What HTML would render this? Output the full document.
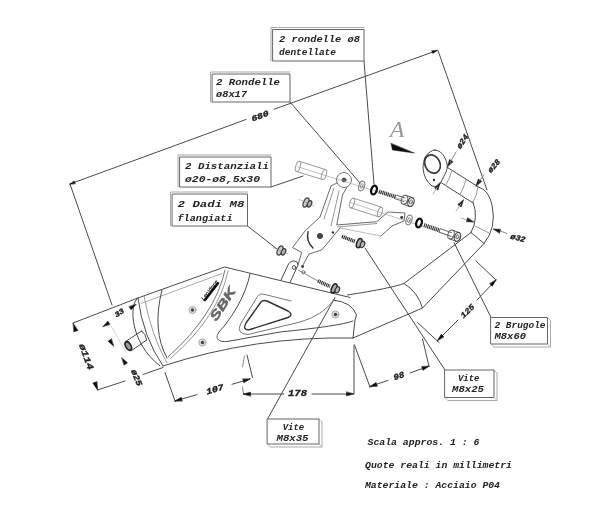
<!DOCTYPE html>
<html><head><meta charset="utf-8"><title>Schema</title>
<style>
html,body{margin:0;padding:0;background:#fff}
svg{display:block}
text{font-family:"Liberation Mono",monospace;font-style:italic}
</style></head><body>
<svg width="600" height="513" viewBox="0 0 600 513">
<defs>
<filter id="b" x="0" y="0" width="600" height="513" filterUnits="userSpaceOnUse"><feGaussianBlur stdDeviation="0.65"/></filter>
<filter id="t" x="0" y="0" width="600" height="513" filterUnits="userSpaceOnUse"><feGaussianBlur stdDeviation="0.6"/></filter>
</defs>
<rect width="600" height="513" fill="#fff"/>
<g id="lines" filter="url(#b)" fill="none" stroke="#4a4a4a" stroke-width="1" stroke-linecap="round" stroke-linejoin="round">
<line x1="70" y1="184" x2="246" y2="119.5"/>
<line x1="274" y1="109.3" x2="437" y2="50.5"/>
<line x1="70" y1="184" x2="112" y2="305"/>
<line x1="438" y1="50.5" x2="487" y2="190"/>
<polygon points="70.0,184.0 74.2,181.1 75.1,183.5" fill="#111" stroke="#111" stroke-width="0.6"/>
<polygon points="437.0,50.5 432.8,53.4 431.9,51.0" fill="#111" stroke="#111" stroke-width="0.6"/>
<line x1="290" y1="102" x2="360" y2="183"/>
<line x1="364" y1="61" x2="374" y2="184"/>
<line x1="271" y1="187" x2="303" y2="176"/>
<line x1="247.5" y1="226" x2="277" y2="249"/>
<line x1="267.5" y1="419" x2="335" y2="297.5"/>
<line x1="445" y1="370" x2="365" y2="248"/>
<line x1="491" y1="317.5" x2="454" y2="242.5"/>
<path d="M138,298 L224.5,267 L350,297.5"/>
<path d="M141,303.5 L222,273.5" stroke="#aaa"/>
<path d="M138,298 Q143,337 163,366"/>
<path d="M138,298 C129,303 129,342 160,366"/>
<path d="M144,296 Q151,335 167,363" stroke="#999"/>
<path d="M163,366 Q255,336 353,338"/>
<path d="M162,290 Q151.7,330 167,358"/>
<path d="M225,270 Q215.5,314.5 168,357" stroke="#777"/>
<path d="M228,271 Q219,316 171,358" stroke="#999"/>
<path d="M250,274 C246,295 232,318 219,332 C214,339 219,343 230,341 L280,332 Q340,326 353,321"/>
<path d="M333,300 Q352,302 356.5,315 L355,320 L353,338"/>
<path d="M291,301 L265,294.5 Q260,293 257.5,296.5 L240.5,324 Q236,334 248,334.5 L300,322 Q322,316 334,300" stroke="#777"/>
<path d="M246,323 L261,302 Q263,299.5 267,301 L288,311 Q294,314.5 288,317.5 L250,329.5 Q242,331 246,323 Z" stroke="#333" stroke-width="1.4"/>
<circle cx="192.5" cy="310" r="3.6" stroke="#aaa" fill="#ddd"/>
<circle cx="192.5" cy="310" r="1.7" stroke="none" fill="#444"/>
<circle cx="202.5" cy="342.5" r="3.6" stroke="#aaa" fill="#ddd"/>
<circle cx="202.5" cy="342.5" r="1.7" stroke="none" fill="#444"/>
<circle cx="335.5" cy="314.5" r="3.6" stroke="#aaa" fill="#ddd"/>
<circle cx="335.5" cy="314.5" r="1.7" stroke="none" fill="#444"/>
<path d="M125.5,341.5 L141.7,331 M131,351 L146.7,340 M141.7,331 Q146,334 146.7,340"/>
<ellipse cx="128.3" cy="346" rx="2.6" ry="4.6" transform="rotate(-30 128.3 346)" stroke="#222" stroke-width="1.6" fill="#999"/>
<path d="M281,280 L288.5,264 Q292,259 297,262 L298,265 L290,282.5"/>
<circle cx="294" cy="267.5" r="1.8" stroke="#444"/>
<circle cx="302.6" cy="266.5" r="1.4" fill="#333" stroke="none"/>
<circle cx="303.4" cy="272.3" r="1.6" stroke="#666"/>
<path d="M435,150 Q441,150 445,158 Q449,166 446,172 L440,184 Q437,188 432,186 Q424,180 423,168 Q423,156 430,152 Q432,150 435,150 Z"/>
<ellipse cx="432.5" cy="164" rx="7.5" ry="9.5" transform="rotate(-25 432.5 164)" stroke-width="1.7" stroke="#3a3a3a"/>
<circle cx="434" cy="180" r="1.2" fill="#333" stroke="none"/>
<path d="M447.5,167.5 L478,186.7 M441.7,183 L473,203"/>
<path d="M466,180 Q464,187 460,194.5" stroke="#999"/>
<path d="M478,186.7 Q477,196 473,202" stroke="#999"/>
<path d="M452,170.5 Q450,178 445.5,185.5" stroke="#999"/>
<path d="M478,186.7 Q489,190 492,205 Q497,228 484,243.5"/>
<path d="M473,202 Q479,218 471,232.5"/>
<path d="M471,232.5 L484,243.5"/>
<path d="M475,226 L489,233" stroke="#999"/>
<path d="M471,232.5 L404,283.5 Q392,288 347.5,295"/>
<path d="M484,243.5 L422.5,308 L353,338"/>
<path d="M404,283.5 Q418,292 422.5,308"/>
<circle cx="344" cy="180" r="7.5" stroke="#777"/>
<circle cx="344" cy="180" r="2" fill="#555"/>
<path d="M337,183 L331,186 L320,217 L305,231 L292.5,247.5 L301.7,252.5 L298,265" stroke="#6a6a6a"/>
<path d="M347,187 L342.5,195 L336.7,225 L376.7,221.7 L388,212 L405,213 L404,221 L392,226 L381,236" stroke="#6a6a6a"/>
<path d="M381,236 L340,228" stroke="#bbb"/>
<path d="M340,228 L321.7,250 L309,254 L303,265" stroke="#6a6a6a"/>
<path d="M337.5,227 L377,223.5" stroke="#999"/>
<path d="M334,188 L324,219 M339,191 L331,226" stroke="#999"/>
<path d="M308,231.7 Q306,242 313,248" stroke="#333" stroke-width="1.4"/>
<circle cx="320" cy="236" r="2.6" fill="#444" stroke="#444"/>
<circle cx="333" cy="232.5" r="1.2" fill="#333" stroke="none"/>
<circle cx="401.7" cy="217.5" r="1.4" fill="#333" stroke="none"/>
<path d="M296.5,171.5 L322.5,179.5 M299.5,161.5 L325.5,169.5" stroke="#9a9a9a"/>
<ellipse cx="298" cy="166.5" rx="2.3" ry="5.2" transform="rotate(17.1 298 166.5)" stroke="#9a9a9a"/>
<ellipse cx="324" cy="174.5" rx="2.3" ry="5.2" transform="rotate(17.1 324 174.5)" stroke="#9a9a9a"/>
<path d="M350.5,207.8 L378.5,216.8 M353.5,198.2 L381.5,207.2" stroke="#9a9a9a"/>
<ellipse cx="352" cy="203" rx="2.2" ry="5" transform="rotate(17.8 352 203)" stroke="#9a9a9a"/>
<ellipse cx="380" cy="212" rx="2.2" ry="5" transform="rotate(17.8 380 212)" stroke="#9a9a9a"/>
<line x1="297.5" y1="166.7" x2="413" y2="203" stroke="#999" stroke-width="0.6"/>
<line x1="350" y1="202.3" x2="457" y2="238" stroke="#999" stroke-width="0.6"/>
<ellipse cx="361.7" cy="186" rx="2.8" ry="5" transform="rotate(18 361.7 186)" stroke="#777" stroke-width="1"/>
<ellipse cx="361.7" cy="186" rx="1.2" ry="2.4" transform="rotate(18 361.7 186)" stroke="#777" stroke-width="0.8"/>
<ellipse cx="374" cy="190" rx="2.7" ry="4.4" transform="rotate(18 374 190)" stroke="#111" stroke-width="2.3"/>
<ellipse cx="409" cy="220" rx="2.8" ry="5" transform="rotate(18 409 220)" stroke="#777" stroke-width="1"/>
<ellipse cx="409" cy="220" rx="1.2" ry="2.4" transform="rotate(18 409 220)" stroke="#777" stroke-width="0.8"/>
<ellipse cx="419" cy="223" rx="2.7" ry="4.4" transform="rotate(18 419 223)" stroke="#111" stroke-width="2.3"/>
<line x1="379" y1="191.5" x2="396" y2="197" stroke="#333" stroke-width="4" stroke-dasharray="1.1 0.7" stroke-linecap="butt"/>
<path d="M395.4,198.8 L403.9,201.6 M396.6,195.2 L405.1,198.0" stroke="#666"/>
<path d="M403.1,204.2 L409.6,206.4 M405.9,195.4 L412.4,197.6" stroke="#555"/>
<ellipse cx="404.5" cy="199.8" rx="3" ry="4.6" transform="rotate(18.2 404.5 199.8)" stroke="#666" stroke-width="1"/>
<ellipse cx="411" cy="202" rx="3" ry="4.6" transform="rotate(18.2 411 202)" stroke="#444" stroke-width="1.2"/>
<ellipse cx="411" cy="202" rx="1.4" ry="2.2" transform="rotate(18.2 411 202)" stroke="#666" stroke-width="0.9"/>
<line x1="424" y1="225" x2="440" y2="230.5" stroke="#333" stroke-width="4" stroke-dasharray="1.1 0.7" stroke-linecap="butt"/>
<path d="M439.4,232.3 L450.4,236.3 M440.6,228.7 L451.6,232.7" stroke="#666"/>
<path d="M449.4,238.8 L455.9,241.2 M452.6,230.2 L459.1,232.6" stroke="#555"/>
<ellipse cx="451" cy="234.5" rx="3" ry="4.6" transform="rotate(20.0 451 234.5)" stroke="#666" stroke-width="1"/>
<ellipse cx="457.5" cy="236.9" rx="3" ry="4.6" transform="rotate(20.0 457.5 236.9)" stroke="#444" stroke-width="1.2"/>
<ellipse cx="457.5" cy="236.9" rx="1.4" ry="2.2" transform="rotate(20.0 457.5 236.9)" stroke="#666" stroke-width="0.9"/>
<line x1="342" y1="236.5" x2="355" y2="241.5" stroke="#222" stroke-width="3.6" stroke-dasharray="1.1 0.7" stroke-linecap="butt"/>
<ellipse cx="359.2" cy="243.1" rx="2.4" ry="4.8" transform="rotate(21.0 359.2 243.1)" stroke="#222" stroke-width="1.5" fill="#aaa"/>
<ellipse cx="362.5" cy="244.4" rx="2" ry="3.3" transform="rotate(21.0 362.5 244.4)" stroke="#333" stroke-width="1.2" fill="#bbb"/>
<line x1="318" y1="281" x2="330" y2="286.5" stroke="#222" stroke-width="3.6" stroke-dasharray="1.1 0.7" stroke-linecap="butt"/>
<ellipse cx="334.1" cy="288.4" rx="2.4" ry="4.8" transform="rotate(24.6 334.1 288.4)" stroke="#222" stroke-width="1.5" fill="#aaa"/>
<ellipse cx="337.3" cy="289.8" rx="2" ry="3.3" transform="rotate(24.6 337.3 289.8)" stroke="#333" stroke-width="1.2" fill="#bbb"/>
<line x1="298" y1="270" x2="318" y2="281" stroke="#888"/>
<ellipse cx="306" cy="202.5" rx="2.4" ry="4.8" transform="rotate(25 306 202.5)" stroke="#444" stroke-width="1.3" fill="#ccc"/>
<ellipse cx="309.5" cy="203.9" rx="2" ry="3.3" transform="rotate(25 309.5 203.9)" stroke="#333" stroke-width="1.2" fill="#bbb"/>
<path d="M299,199.5 L314,205.9" stroke="#888" stroke-width="0.6"/>
<ellipse cx="280" cy="250.5" rx="2.4" ry="4.8" transform="rotate(25 280 250.5)" stroke="#444" stroke-width="1.3" fill="#ccc"/>
<ellipse cx="283.5" cy="251.9" rx="2" ry="3.3" transform="rotate(25 283.5 251.9)" stroke="#333" stroke-width="1.2" fill="#bbb"/>
<path d="M273,247.5 L288,253.9" stroke="#888" stroke-width="0.6"/>
<line x1="138" y1="298" x2="73" y2="323"/>
<polygon points="73.3,323.5 77.9,330.4 74.1,331.7" fill="#111" stroke="#111" stroke-width="0.6"/>
<polygon points="97.5,390.0 92.9,383.1 96.7,381.8" fill="#111" stroke="#111" stroke-width="0.6"/>
<line x1="97.5" y1="390" x2="125" y2="381"/>
<line x1="143" y1="374.5" x2="163" y2="367.5"/>
<polygon points="103.0,326.5 107.9,321.2 109.8,324.2" fill="#111" stroke="#111" stroke-width="0.6"/>
<polygon points="136.0,304.5 131.1,309.8 129.2,306.8" fill="#111" stroke="#111" stroke-width="0.6"/>
<line x1="110" y1="324" x2="126" y2="352" stroke="#bbb" stroke-width="0.6"/>
<polygon points="113.5,346.0 108.1,341.2 111.3,339.1" fill="#111" stroke="#111" stroke-width="0.6"/>
<polygon points="122.0,358.0 127.4,362.8 124.2,364.9" fill="#111" stroke="#111" stroke-width="0.6"/>
<line x1="165" y1="372.5" x2="175" y2="401"/>
<line x1="175" y1="401" x2="197" y2="394.6"/>
<line x1="232" y1="384.3" x2="250" y2="379"/>
<polygon points="175.0,401.0 181.2,397.3 182.2,400.8" fill="#111" stroke="#111" stroke-width="0.6"/>
<polygon points="250.0,379.0 243.8,382.7 242.8,379.2" fill="#111" stroke="#111" stroke-width="0.6"/>
<line x1="247" y1="355" x2="252.5" y2="377.5"/>
<path d="M244.5,356 L242.5,367 M242.5,387 L243.5,394" stroke="#888"/>
<line x1="243.5" y1="394" x2="284" y2="394"/>
<line x1="312" y1="394" x2="353" y2="394"/>
<polygon points="243.5,394.0 250.5,392.2 250.5,395.8" fill="#111" stroke="#111" stroke-width="0.6"/>
<polygon points="353.5,394.0 346.5,395.8 346.5,392.2" fill="#111" stroke="#111" stroke-width="0.6"/>
<line x1="354" y1="345" x2="354" y2="394"/>
<line x1="354.5" y1="345" x2="370" y2="387"/>
<line x1="370" y1="386.5" x2="388" y2="380.4"/>
<line x1="410" y1="372.9" x2="429" y2="366.3"/>
<polygon points="370.0,386.5 376.1,382.5 377.2,386.0" fill="#111" stroke="#111" stroke-width="0.6"/>
<polygon points="429.0,366.3 422.9,370.3 421.8,366.8" fill="#111" stroke="#111" stroke-width="0.6"/>
<line x1="422.5" y1="339" x2="429" y2="366.3"/>
<line x1="417.5" y1="322.5" x2="439" y2="342.5"/>
<line x1="437.5" y1="340.5" x2="458" y2="320"/>
<line x1="477" y1="300" x2="496" y2="280"/>
<polygon points="437.5,340.5 441.2,334.3 443.7,336.8" fill="#111" stroke="#111" stroke-width="0.6"/>
<polygon points="496.0,280.0 492.3,286.2 489.8,283.7" fill="#111" stroke="#111" stroke-width="0.6"/>
<line x1="476" y1="261" x2="496" y2="280"/>
<polygon points="447.5,166.5 449.6,159.6 452.8,161.6" fill="#111" stroke="#111" stroke-width="0.6"/>
<line x1="450" y1="162.5" x2="456" y2="152" stroke="#888"/>
<polygon points="440.0,183.0 437.9,189.9 434.7,187.9" fill="#111" stroke="#111" stroke-width="0.6"/>
<line x1="437.5" y1="187" x2="433" y2="194" stroke="#aaa"/>
<polygon points="476.0,186.0 478.3,179.1 481.5,181.2" fill="#111" stroke="#111" stroke-width="0.6"/>
<line x1="479" y1="181.5" x2="484" y2="175" stroke="#888"/>
<polygon points="463.5,200.0 461.2,206.9 458.0,204.8" fill="#111" stroke="#111" stroke-width="0.6"/>
<line x1="461" y1="204" x2="456" y2="211" stroke="#aaa"/>
<polygon points="493.5,229.0 500.7,229.4 499.5,233.0" fill="#111" stroke="#111" stroke-width="0.6"/>
<line x1="500" y1="231" x2="507" y2="233.5" stroke="#888"/>
<polygon points="473.5,222.0 466.3,221.6 467.5,218.0" fill="#111" stroke="#111" stroke-width="0.6"/>
<line x1="467" y1="220" x2="461" y2="218" stroke="#aaa"/>
<polygon points="391,143.5 392.5,150 414,153" fill="#111" stroke="#111" stroke-width="0.5"/>
<path d="M271,61 L271,27.5 L364,27.5" stroke="#aaa"/>
<rect x="273" y="29.5" width="91" height="31.5" fill="#fff" stroke="#666"/>
<path d="M210.5,102 L210.5,72 L290,72" stroke="#aaa"/>
<rect x="212.5" y="74" width="77.5" height="28" fill="#fff" stroke="#666"/>
<path d="M178,187 L178,155 L271,155" stroke="#aaa"/>
<rect x="180" y="157" width="91" height="30" fill="#fff" stroke="#666"/>
<path d="M170.5,226 L170.5,192 L247.5,192" stroke="#aaa"/>
<rect x="172.5" y="194" width="75.0" height="32" fill="#fff" stroke="#666"/>
<path d="M270.5,447 L322,447 L322,422" stroke="#aaa"/>
<path d="M267.5,444 l3,3 M319,444 l3,3 M319,419 l3,3" stroke="#bbb"/>
<rect x="267.5" y="419" width="51.5" height="25" fill="#fff" stroke="#666"/>
<path d="M448,400.5 L497,400.5 L497,373" stroke="#aaa"/>
<path d="M445,397.5 l3,3 M494,397.5 l3,3 M494,370 l3,3" stroke="#bbb"/>
<rect x="445" y="370" width="49" height="27.5" fill="#fff" stroke="#666"/>
<path d="M494,347 L550.5,347 L550.5,320.5" stroke="#aaa"/>
<path d="M491,344 l3,3 M547.5,344 l3,3 M547.5,317.5 l3,3" stroke="#bbb"/>
<rect x="491" y="317.5" width="56.5" height="26.5" fill="#fff" stroke="#666"/>
</g>
<g filter="url(#t)">
<text x="279" y="39" font-size="9.5" text-anchor="start" dominant-baseline="central" fill="#222" font-weight="bold" stroke="none" textLength="81" lengthAdjust="spacingAndGlyphs">2 rondelle ø8</text>
<text x="279" y="52" font-size="9.5" text-anchor="start" dominant-baseline="central" fill="#222" font-weight="bold" stroke="none" textLength="57" lengthAdjust="spacingAndGlyphs">dentellate</text>
<text x="216" y="82.5" font-size="9.5" text-anchor="start" dominant-baseline="central" fill="#222" font-weight="bold" stroke="none" textLength="64" lengthAdjust="spacingAndGlyphs">2 Rondelle</text>
<text x="216" y="94.5" font-size="9.5" text-anchor="start" dominant-baseline="central" fill="#222" font-weight="bold" stroke="none" textLength="31" lengthAdjust="spacingAndGlyphs">ø8x17</text>
<text x="185" y="166" font-size="9.5" text-anchor="start" dominant-baseline="central" fill="#222" font-weight="bold" stroke="none" textLength="84" lengthAdjust="spacingAndGlyphs">2 Distanziali</text>
<text x="185" y="179" font-size="9.5" text-anchor="start" dominant-baseline="central" fill="#222" font-weight="bold" stroke="none" textLength="75" lengthAdjust="spacingAndGlyphs">ø20-ø8,5x30</text>
<text x="177.5" y="204" font-size="9.5" text-anchor="start" dominant-baseline="central" fill="#222" font-weight="bold" stroke="none" textLength="67" lengthAdjust="spacingAndGlyphs">2 Dadi M8</text>
<text x="177.5" y="218" font-size="9.5" text-anchor="start" dominant-baseline="central" fill="#222" font-weight="bold" stroke="none" textLength="55" lengthAdjust="spacingAndGlyphs">flangiati</text>
<text x="293.5" y="427" font-size="9.5" text-anchor="middle" dominant-baseline="central" fill="#222" font-weight="bold" stroke="none" textLength="21.5" lengthAdjust="spacingAndGlyphs">Vite</text>
<text x="292.5" y="438.5" font-size="9.5" text-anchor="middle" dominant-baseline="central" fill="#222" font-weight="bold" stroke="none" textLength="32" lengthAdjust="spacingAndGlyphs">M8x35</text>
<text x="468.7" y="378" font-size="9.5" text-anchor="middle" dominant-baseline="central" fill="#222" font-weight="bold" stroke="none" textLength="21.5" lengthAdjust="spacingAndGlyphs">Vite</text>
<text x="468" y="389.5" font-size="9.5" text-anchor="middle" dominant-baseline="central" fill="#222" font-weight="bold" stroke="none" textLength="32" lengthAdjust="spacingAndGlyphs">M8x25</text>
<text x="494.5" y="326" font-size="8.5" text-anchor="start" dominant-baseline="central" fill="#222" font-weight="bold" stroke="none" textLength="51" lengthAdjust="spacingAndGlyphs">2 Brugole</text>
<text x="494.5" y="337" font-size="8.5" text-anchor="start" dominant-baseline="central" fill="#222" font-weight="bold" stroke="none" textLength="31.5" lengthAdjust="spacingAndGlyphs">M8x60</text>
<text x="367.5" y="442" font-size="9.8" text-anchor="start" dominant-baseline="central" fill="#222" font-weight="bold" stroke="none" textLength="112" lengthAdjust="spacingAndGlyphs">Scala appros. 1 : 6</text>
<text x="365" y="465.5" font-size="9.8" text-anchor="start" dominant-baseline="central" fill="#222" font-weight="bold" stroke="none" textLength="147" lengthAdjust="spacingAndGlyphs">Quote reali in millimetri</text>
<text x="365" y="485.5" font-size="9.8" text-anchor="start" dominant-baseline="central" fill="#222" font-weight="bold" stroke="none" textLength="135" lengthAdjust="spacingAndGlyphs">Materiale : Acciaio P04</text>
<text x="260" y="116" font-size="8" text-anchor="middle" dominant-baseline="central" fill="#222" font-weight="bold" stroke="#222" stroke-width="0.35" transform="rotate(-20 260 116)" textLength="18" lengthAdjust="spacingAndGlyphs">680</text>
<text x="85.5" y="357" font-size="9" text-anchor="middle" dominant-baseline="central" fill="#222" font-weight="bold" stroke="#222" stroke-width="0.35" transform="rotate(70 85.5 357)" textLength="27" lengthAdjust="spacingAndGlyphs">ø114</text>
<text x="119.5" y="313" font-size="7.5" text-anchor="middle" dominant-baseline="central" fill="#222" font-weight="bold" stroke="#222" stroke-width="0.35" transform="rotate(-33 119.5 313)" textLength="10" lengthAdjust="spacingAndGlyphs">33</text>
<text x="136" y="378" font-size="8.5" text-anchor="middle" dominant-baseline="central" fill="#222" font-weight="bold" stroke="#222" stroke-width="0.35" transform="rotate(68 136 378)" textLength="17" lengthAdjust="spacingAndGlyphs">ø25</text>
<text x="215" y="390" font-size="8.5" text-anchor="middle" dominant-baseline="central" fill="#222" font-weight="bold" stroke="#222" stroke-width="0.35" transform="rotate(-16 215 390)" textLength="18" lengthAdjust="spacingAndGlyphs">107</text>
<text x="297.5" y="394" font-size="8.5" text-anchor="middle" dominant-baseline="central" fill="#222" font-weight="bold" stroke="#222" stroke-width="0.35" textLength="19" lengthAdjust="spacingAndGlyphs">178</text>
<text x="399" y="376.5" font-size="8.5" text-anchor="middle" dominant-baseline="central" fill="#222" font-weight="bold" stroke="#222" stroke-width="0.35" transform="rotate(-19 399 376.5)" textLength="11" lengthAdjust="spacingAndGlyphs">98</text>
<text x="467.5" y="311" font-size="8" text-anchor="middle" dominant-baseline="central" fill="#222" font-weight="bold" stroke="#222" stroke-width="0.35" transform="rotate(-45 467.5 311)" textLength="16" lengthAdjust="spacingAndGlyphs">125</text>
<text x="462.5" y="141.5" font-size="8" text-anchor="middle" dominant-baseline="central" fill="#222" font-weight="bold" stroke="#222" stroke-width="0.35" transform="rotate(-57 462.5 141.5)" textLength="15" lengthAdjust="spacingAndGlyphs">ø24</text>
<text x="494" y="166" font-size="8" text-anchor="middle" dominant-baseline="central" fill="#222" font-weight="bold" stroke="#222" stroke-width="0.35" transform="rotate(-50 494 166)" textLength="15" lengthAdjust="spacingAndGlyphs">ø28</text>
<text x="518" y="238" font-size="8" text-anchor="middle" dominant-baseline="central" fill="#222" font-weight="bold" stroke="#222" stroke-width="0.35" transform="rotate(15 518 238)" textLength="15" lengthAdjust="spacingAndGlyphs">ø32</text>
<text x="397" y="129" font-size="24" text-anchor="middle" dominant-baseline="central" fill="#999" font-weight="normal" stroke="none" style="font-family:'Liberation Serif',serif">A</text>
<line x1="205" y1="300" x2="218" y2="283.3" stroke="#111" stroke-width="2.4" stroke-linecap="round"/>
<text x="209.5" y="290" font-size="5.5" text-anchor="middle" dominant-baseline="central" fill="#111" font-weight="bold" stroke="none" transform="rotate(-52 209.5 290)" textLength="24" lengthAdjust="spacingAndGlyphs" style="font-family:'Liberation Sans',serif">LeoVince</text>
<text x="223" y="304" font-size="12.5" text-anchor="middle" dominant-baseline="central" fill="#666" font-weight="bold" stroke="#666" stroke-width="0.5" transform="rotate(-57 223 304)" textLength="37" lengthAdjust="spacingAndGlyphs" style="font-family:'Liberation Sans',serif">SBK</text>
</g>
</svg>
</body></html>
